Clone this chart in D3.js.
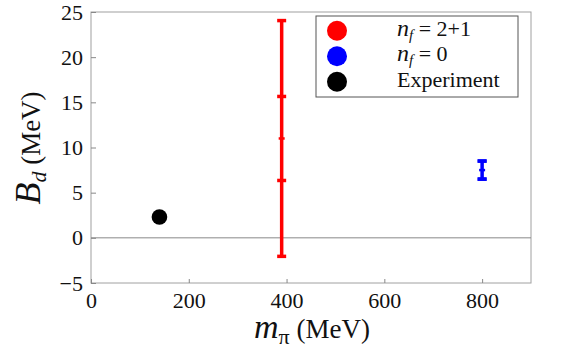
<!DOCTYPE html>
<html>
<head>
<meta charset="utf-8">
<script src="https://cdn.jsdelivr.net/npm/d3@7"></script>
<style>
  body { margin: 0; background: #fff; }
</style>
</head>
<body>
<div id="chart"></div>
<script>
// data
const seriesNames = ["2+1", "0", "Experiment"];
const seriesColors = ["#ff0000", "#0000ff", "#000000"];
const mpiValues = [390, 800, 140];        // MeV
const bdValues = [11, 7.5, 2.3];          // MeV
const statErrors = [4.65, 1.0, 0];
const totalErrors = [13.05, 1.0, 0];
const xTicks = [0, 200, 400, 600, 800];
const yTicks = [-5, 0, 5, 10, 15, 20, 25];

const serif = "Liberation Serif";

const width = 581, height = 363;
const margin = {left: 91, right: 50, top: 12, bottom: 80};
const plotW = width - margin.left - margin.right;
const plotH = height - margin.top - margin.bottom;

const svg = d3.select("#chart").append("svg")
    .attr("width", width)
    .attr("height", height)
    .attr("font-family", serif);

const x = d3.scaleLinear().domain([0, 900]).range([margin.left, margin.left + plotW]);
const y = d3.scaleLinear().domain([-5, 25]).range([margin.top + plotH, margin.top]);

// frame
svg.append("rect")
    .attr("x", margin.left).attr("y", margin.top)
    .attr("width", plotW).attr("height", plotH)
    .attr("fill", "none").attr("stroke", "#a0a0a0").attr("stroke-width", 1);

// zero line
svg.append("line")
    .attr("x1", x(0)).attr("x2", x(900))
    .attr("y1", y(0)).attr("y2", y(0))
    .attr("stroke", "#888").attr("stroke-width", 1);

// axes, ticks pointing inward
const xAxis = svg.append("g")
    .attr("transform", `translate(0,${margin.top + plotH})`)
    .call(d3.axisBottom(x).tickValues(xTicks).tickSize(-4).tickPadding(9).tickFormat(d3.format("d")));
const yAxis = svg.append("g")
    .attr("transform", `translate(${margin.left},0)`)
    .call(d3.axisLeft(y).tickValues(yTicks).tickSize(-5).tickPadding(8));

[xAxis, yAxis].forEach(g => {
    g.attr("font-family", serif).attr("font-size", 22);
    g.select(".domain").remove();
    g.selectAll(".tick line").attr("stroke", "#888");
    g.selectAll(".tick text")
        .attr("font-family", serif)
        .attr("fill", "#111");
});

// error bars
const plot = svg.append("g");
const barIdx = [0, 1];
barIdx.forEach(i => {
    const g = plot.append("g").attr("stroke", seriesColors[i]).attr("stroke-width", 3.5);
    const cx = x(mpiValues[i]);
    const lo = bdValues[i] - totalErrors[i], hi = bdValues[i] + totalErrors[i];
    g.append("line").attr("x1", cx).attr("x2", cx).attr("y1", y(lo)).attr("y2", y(hi));
    // caps for total and stat errors
    const caps = [lo, hi, bdValues[i] - statErrors[i], bdValues[i] + statErrors[i]];
    caps.forEach(v => {
        g.append("line")
            .attr("x1", cx - 4.5).attr("x2", cx + 4.5)
            .attr("y1", y(v)).attr("y2", y(v));
    });
    // centre tick
    g.append("line")
        .attr("x1", cx - 3).attr("x2", cx + 3)
        .attr("y1", y(bdValues[i])).attr("y2", y(bdValues[i]))
        .attr("stroke-width", 2.5);
});

// experiment point
plot.append("circle")
    .attr("cx", x(mpiValues[2]))
    .attr("cy", y(bdValues[2]))
    .attr("r", 7.8)
    .attr("fill", seriesColors[2]);

// legend
const legend = svg.append("g");
legend.append("rect")
    .attr("x", 316).attr("y", 16)
    .attr("width", 202).attr("height", 81)
    .attr("fill", "#fff").attr("stroke", "#555").attr("stroke-width", 1);

seriesNames.forEach((name, i) => {
    const cy = 30.7 + i * 25.5;
    legend.append("circle")
        .attr("cx", 337).attr("cy", cy).attr("r", 10)
        .attr("fill", seriesColors[i]);
    const t = legend.append("text")
        .attr("x", 397).attr("y", cy + 5)
        .attr("font-family", serif)
        .attr("font-size", 22).attr("fill", "#111");
    if (name === "Experiment") {
        t.text(name);
    } else {
        t.append("tspan").attr("font-style", "italic").attr("font-size", 24).text("n");
        t.append("tspan").attr("font-style", "italic").attr("font-size", 15).attr("dy", 4).text("f");
        t.append("tspan").attr("dy", -4).text(" = " + name);
    }
});

// axis titles
const xTitle = svg.append("text")
    .attr("x", 312).attr("y", 338)
    .attr("text-anchor", "middle")
    .attr("font-family", serif)
    .attr("fill", "#111");
xTitle.append("tspan").attr("font-style", "italic").attr("font-size", 34).text("m");
xTitle.append("tspan").attr("font-size", 22).attr("dy", 6).text("π");
xTitle.append("tspan").attr("font-size", 27).attr("dy", -6).text(" (MeV)");

const yTitle = svg.append("text")
    .attr("transform", "translate(40,148) rotate(-90)")
    .attr("text-anchor", "middle")
    .attr("font-family", serif)
    .attr("fill", "#111");
yTitle.append("tspan").attr("font-style", "italic").attr("font-size", 36).text("B");
yTitle.append("tspan").attr("font-style", "italic").attr("font-size", 22).attr("dy", 6).text("d");
yTitle.append("tspan").attr("font-size", 27).attr("dy", -6).text(" (MeV)");
</script>
</body>
</html>
